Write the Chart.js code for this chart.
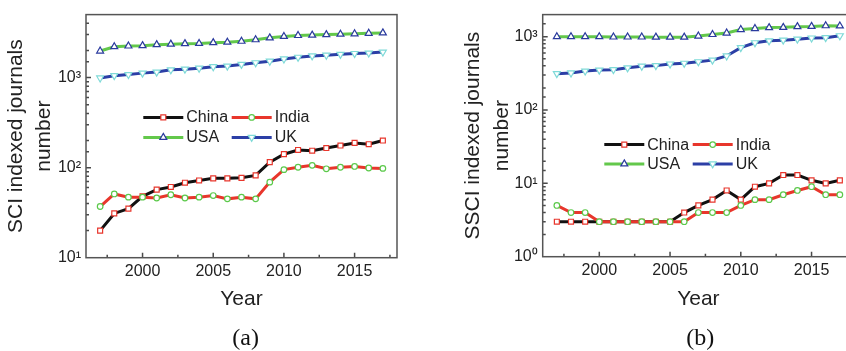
<!DOCTYPE html>
<html>
<head>
<meta charset="utf-8">
<script src="https://cdn.jsdelivr.net/npm/chart.js@4.4.0/dist/chart.umd.min.js"></script>
<style>
  html, body { margin: 0; padding: 0; background: #fff; }
  #wrap { position: relative; width: 846px; height: 351px; overflow: hidden; background: #fff; }
  canvas { position: absolute; top: 0; }
  #cA { left: 0; }
  #cB { left: 456px; }
  .cap { position: absolute; width: 100px; text-align: center; font-family: "Liberation Serif", "Times New Roman", serif; font-size: 24px; line-height: 28px; color: #111; top: 322.7px; }
</style>
</head>
<body>
<div id="wrap">
  <canvas id="cA" width="426" height="351"></canvas>
  <canvas id="cB" width="420" height="351"></canvas>
  <div class="cap" style="left:195.7px">(a)</div>
  <div class="cap" style="left:650.3px">(b)</div>
</div>
<script>
// ---------- data ----------
const years = [1997,1998,1999,2000,2001,2002,2003,2004,2005,2006,2007,2008,2009,2010,2011,2012,2013,2014,2015,2016,2017];
const seriesNames = ['China','India','USA','UK'];

// (a) SCI indexed journals
const sciChina = [20,31,35,48,57,61,68,72,76,76,77,82,115,141,157,154,165,176,188,182,200];
const sciIndia = [37,51,47,47,46,50,46,47,49,45,47,45,69,95,101,106,97,101,103,99,98];
const sciUSA   = [1970,2200,2240,2260,2320,2350,2380,2390,2440,2470,2530,2630,2760,2860,2930,2960,3000,3030,3060,3100,3130];
const sciUK    = [990,1050,1080,1120,1150,1220,1240,1270,1320,1340,1400,1460,1520,1610,1680,1740,1770,1810,1850,1870,1920];

// (b) SSCI indexed journals
const ssciChina = [3,3,3,3,3,3,3,3,3,4,5,6,8,6,9,10,13,13,11,10,11];
const ssciIndia = [5,4,4,3,3,3,3,3,3,3,4,4,4,5,6,6,7,8,9,7,7];
const ssciUSA   = [1000,1000,1000,1000,990,990,990,985,985,985,1020,1070,1120,1250,1290,1330,1340,1370,1380,1410,1400];
const ssciUK    = [313,320,340,350,355,376,396,403,424,434,455,479,546,710,826,877,897,925,960,970,1030];

// axis tick values
const xMajorTicks = [2000,2005,2010,2015];
const xMinorTicks = [1997.5,2002.5,2007.5,2012.5,2017.5];
const xRange = [1996, 2018];
const yRangeA = [10, 5000];
const yRangeB = [1, 2000];

// ---------- styles ----------
const FONT = '"Liberation Sans", Arial, Helvetica, sans-serif';
Chart.defaults.font.family = FONT;
Chart.defaults.color = '#222';

const styles = [
  { line: '#111111', point: '#e8362c', style: 'rect', radius: 3.5, rot: 0, order: 2 },
  { line: '#e8362c', point: '#5bc94a', style: 'circle', radius: 2.8, rot: 0, order: 1 },
  { line: '#63c84b', point: '#2a3a9e', style: 'triangle', radius: 4, rot: 0, order: 3 },
  { line: '#2c3fa6', point: '#7fdad8', style: 'triangle', radius: 4, rot: 180, order: 4 }
];

function makeDatasets(arrs) {
  return arrs.map((vals, i) => {
    const s = styles[i];
    return {
      label: seriesNames[i],
      data: years.map((yr, k) => ({ x: yr, y: vals[k] })),
      borderColor: s.line,
      borderWidth: 3,
      backgroundColor: s.line,
      pointStyle: s.style,
      pointRotation: s.rot,
      pointRadius: s.radius,
      pointBorderColor: s.point,
      pointBackgroundColor: '#ffffff',
      pointBorderWidth: 1.2,
      tension: 0,
      order: s.order
    };
  });
}

const supMap = { '0': '\u2070', '1': '\u00B9', '2': '\u00B2', '3': '\u00B3' };
function logLabel(v) {
  const l = Math.log10(v);
  const r = Math.round(l);
  if (Math.abs(l - r) < 1e-9) return '10' + supMap[String(r)];
  return '';
}

// frame + inward ticks
const framePlugin = {
  id: 'frameTicks',
  afterDraw(chart) {
    const ctx = chart.ctx;
    const a = chart.chartArea;
    const xs = chart.scales.x, ys = chart.scales.y;
    ctx.save();
    ctx.strokeStyle = '#4a4a4a';
    ctx.lineWidth = 1.5;
    ctx.beginPath();
    // x ticks
    xMajorTicks.forEach(v => {
      const p = xs.getPixelForValue(v);
      ctx.moveTo(p, a.bottom); ctx.lineTo(p, a.bottom - 5);
    });
    xMinorTicks.forEach(v => {
      const p = xs.getPixelForValue(v);
      ctx.moveTo(p, a.bottom); ctx.lineTo(p, a.bottom - 3);
    });
    // y ticks
    ys.ticks.forEach(t => {
      const v = t.value;
      if (v <= ys.min || v >= ys.max) return;
      const p = ys.getPixelForValue(v);
      const l = Math.log10(v);
      const major = Math.abs(l - Math.round(l)) < 1e-9;
      ctx.moveTo(a.left, p); ctx.lineTo(a.left + (major ? 5 : 3), p);
    });
    ctx.stroke();
    // frame
    ctx.strokeStyle = '#555';
    ctx.lineWidth = 1.5;
    ctx.strokeRect(a.left, a.top, a.right - a.left, a.bottom - a.top);
    ctx.restore();
  }
};

// custom legend: line + marker + text
const legendPlugin = {
  id: 'lineLegend',
  afterDraw(chart, args, opts) {
    const ctx = chart.ctx;
    const a = chart.chartArea;
    ctx.save();
    chart.data.datasets.forEach((ds, i) => {
      const col = i % 2, row = Math.floor(i / 2);
      const x0 = a.left + opts.x + col * opts.colGap;
      const y0 = a.top + opts.y + row * opts.rowGap;
      ctx.strokeStyle = ds.borderColor;
      ctx.lineWidth = ds.borderWidth;
      ctx.beginPath();
      ctx.moveTo(x0, y0); ctx.lineTo(x0 + opts.len, y0);
      ctx.stroke();
      ctx.strokeStyle = ds.pointBorderColor;
      ctx.fillStyle = ds.pointBackgroundColor;
      ctx.lineWidth = ds.pointBorderWidth;
      Chart.helpers.drawPoint(ctx, { pointStyle: ds.pointStyle, rotation: ds.pointRotation, radius: ds.pointRadius, borderWidth: ds.pointBorderWidth }, x0 + opts.len / 2, y0);
      ctx.fillStyle = '#222';
      ctx.font = '16px ' + FONT;
      ctx.textBaseline = 'middle';
      ctx.textAlign = 'left';
      ctx.fillText(ds.label, x0 + opts.len + 3, y0 + 0.5);
    });
    ctx.restore();
  }
};

function makeChart(id, arrs, yRange, cfg) {
  return new Chart(document.getElementById(id), {
    type: 'line',
    data: { datasets: makeDatasets(arrs) },
    plugins: [framePlugin, legendPlugin],
    options: {
      responsive: false,
      animation: false,
      devicePixelRatio: 1,
      layout: { padding: { left: 0, top: cfg.top, right: cfg.right, bottom: 0 } },
      plugins: {
        legend: { display: false },
        tooltip: { enabled: false },
        lineLegend: cfg.legend
      },
      scales: {
        x: {
          type: 'linear',
          min: xRange[0], max: xRange[1],
          grid: { display: false, drawTicks: false },
          border: { display: false },
          afterBuildTicks: s => { s.ticks = xMajorTicks.map(v => ({ value: v })); },
          afterFit: s => { s.height = cfg.xH; },
          ticks: { autoSkip: false, maxRotation: 0, padding: 4, font: { size: 16 }, color: '#222', callback: v => String(v) },
          title: { display: true, text: 'Year', font: { size: 21 }, color: '#222', padding: { top: 0, bottom: 39 } }
        },
        y: {
          type: 'logarithmic',
          min: yRange[0], max: yRange[1],
          grid: { display: false, drawTicks: false },
          border: { display: false },
          afterFit: s => { s.width = cfg.yW; },
          ticks: { autoSkip: false, padding: 5, font: { size: 16 }, color: '#222', callback: v => logLabel(v) },
          title: { display: true, text: cfg.yTitle, font: { size: 21, lineHeight: cfg.yLH }, color: '#222', padding: { top: cfg.yPad, bottom: 0 } }
        }
      }
    }
  });
}

makeChart('cA', [sciChina, sciIndia, sciUSA, sciUK], yRangeA, {
  top: 9.5, right: 29, xH: 93.3, yW: 86,
  yTitle: ['SCI indexed journals', 'number'], yLH: 1.33, yPad: 2.4,
  legend: { x: 57.3, y: 102.8, colGap: 88.4, rowGap: 20, len: 40 }
});

makeChart('cB', [ssciChina, ssciIndia, ssciUSA, ssciUK], yRangeB, {
  top: 6.7, right: 22, xH: 94.3, yW: 86.7,
  yTitle: ['SSCI indexed journals', 'number'], yLH: 1.39, yPad: 2.2,
  legend: { x: 61.6, y: 130, colGap: 88.4, rowGap: 19.3, len: 40 }
});
</script>
</body>
</html>
